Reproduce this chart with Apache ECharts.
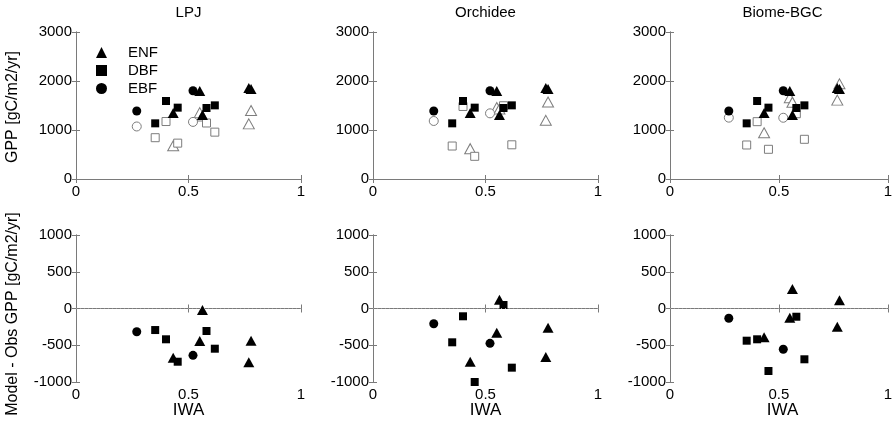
<!DOCTYPE html>
<html><head><meta charset="utf-8">
<script src="https://cdn.jsdelivr.net/npm/echarts/dist/echarts.min.js"></script>
<style>html,body{margin:0;padding:0;background:#fff}#c{width:895px;height:424px}</style>
</head><body><div id="c"></div>
<script>
// ---- data ----
const modelNames = ['LPJ', 'Orchidee', 'Biome-BGC'];
const pftNames = ['ENF', 'DBF', 'EBF'];
const xTicks = [0, 0.5, 1];
const gppTicks = [0, 1000, 2000, 3000];
const diffTicks = [-1000, -500, 0, 500, 1000];

// site IWA values
const iwaENF = [0.432, 0.55, 0.562, 0.768, 0.778];
const iwaDBF = [0.352, 0.40, 0.452, 0.58, 0.617];
const iwaEBF = [0.27, 0.52];

// observed GPP (filled markers)
const obsENF = [1347, 1796, 1306, 1857, 1837];
const obsDBF = [1136, 1592, 1456, 1449, 1503];
const obsEBF = [1388, 1802];

// modelled GPP (open markers)
const lpjENF = [678, 1354, 1286, 1125, 1399];
const lpjDBF = [843, 1173, 732, 1143, 956];
const lpjEBF = [1072, 1165];
const orcENF = [619, 1460, 1430, 1197, 1570];
const orcDBF = [673, 1480, 463, 1495, 698];
const orcEBF = [1184, 1340];
const bgcENF = [945, 1660, 1568, 1610, 1942];
const bgcDBF = [694, 1170, 606, 1332, 810];
const bgcEBF = [1252, 1250];

// model - obs GPP
const lpjDiffENF = [-669, -442, -20, -732, -438];
const lpjDiffDBF = [-293, -419, -724, -306, -547];
const lpjDiffEBF = [-316, -637];
const orcDiffENF = [-724, -329, 120, -660, -261];
const orcDiffDBF = [-460, -106, -1000, 48, -805];
const orcDiffEBF = [-207, -474];
const bgcDiffENF = [-392, -125, 265, -248, 112];
const bgcDiffDBF = [-438, -419, -850, -112, -691];
const bgcDiffEBF = [-133, -555];

// ---- build ----
const FONT = '"Liberation Sans", Arial, Helvetica, sans-serif';
const iwa = [iwaENF, iwaDBF, iwaEBF];
const obs = [obsENF, obsDBF, obsEBF];
const mods = [[lpjENF, lpjDBF, lpjEBF], [orcENF, orcDBF, orcEBF], [bgcENF, bgcDBF, bgcEBF]];
const diffs = [[lpjDiffENF, lpjDiffDBF, lpjDiffEBF], [orcDiffENF, orcDiffDBF, orcDiffEBF], [bgcDiffENF, bgcDiffDBF, bgcDiffEBF]];
const symbols = ['triangle', 'rect', 'circle'];
const fillSize = [[11, 10], 8, 9];
const openSize = [[11, 10], 8, 9];

const lefts = [76, 373, 670];
const widths = [225, 225, 228];
const tops = [32, 235];
const H = 147;
const axisColor = '#7a7a7a';

const grid = [], xAxis = [], yAxis = [], series = [];
function pts(xs, ys) { return xs.map((x, i) => [x, ys[i]]); }
const plain = v => String(v);

for (let r = 0; r < 2; r++) {
  for (let c = 0; c < 3; c++) {
    const g = r * 3 + c;
    grid.push({ left: lefts[c], top: tops[r], width: widths[c], height: H });
    const yt = r === 0 ? gppTicks : diffTicks;
    const base = {
      gridIndex: g, type: 'value', splitLine: { show: false },
      axisLine: { show: true, lineStyle: { color: axisColor, width: 1 } },
      axisTick: { show: true, inside: true, length: 4, lineStyle: { color: axisColor } }
    };
    xAxis.push(Object.assign({}, base, { position: 'bottom', min: xTicks[0], max: xTicks[xTicks.length - 1], interval: xTicks[1] - xTicks[0],
      axisLabel: { color: '#000', fontSize: 15, fontFamily: FONT, margin: 5, formatter: plain } }));
    xAxis.push(Object.assign({}, base, { position: 'top', min: xTicks[0], max: xTicks[xTicks.length - 1], interval: xTicks[1] - xTicks[0],
      axisLabel: { show: false } }));
    yAxis.push(Object.assign({}, base, { position: 'left', min: yt[0], max: yt[yt.length - 1], interval: yt[1] - yt[0],
      axisLabel: { color: '#000', fontSize: 15, fontFamily: FONT, margin: 4, formatter: plain } }));
    yAxis.push(Object.assign({}, base, { position: 'right', min: yt[0], max: yt[yt.length - 1], interval: yt[1] - yt[0],
      axisLabel: { show: false } }));

    const xi = 2 * g, yi = 2 * g;
    if (r === 0) {
      for (let p = 0; p < 3; p++) {
        series.push({ type: 'scatter', name: modelNames[c] + ' ' + pftNames[p] + ' model', xAxisIndex: xi, yAxisIndex: yi,
          symbol: symbols[p], symbolSize: openSize[p], data: pts(iwa[p], mods[c][p]),
          itemStyle: { color: '#fff', borderColor: '#7d7d7d', borderWidth: 1, opacity: 1 }, silent: true, z: 2 });
      }
      for (let p = 0; p < 3; p++) {
        series.push({ type: 'scatter', name: pftNames[p], xAxisIndex: xi, yAxisIndex: yi,
          symbol: symbols[p], symbolSize: fillSize[p], data: pts(iwa[p], obs[p]),
          itemStyle: { color: '#000', opacity: 1 }, silent: true, z: 3 });
      }
    } else {
      for (let p = 0; p < 3; p++) {
        const s = { type: 'scatter', name: modelNames[c] + ' ' + pftNames[p] + ' diff', xAxisIndex: xi, yAxisIndex: yi,
          symbol: symbols[p], symbolSize: fillSize[p], data: pts(iwa[p], diffs[c][p]),
          itemStyle: { color: '#000', opacity: 1 }, silent: true, z: 3 };
        if (p === 0) {
          s.markLine = { silent: true, symbol: 'none', label: { show: false }, animation: false,
            lineStyle: { type: [1, 3], color: '#999', width: 1 }, data: [{ yAxis: 0 }] };
        }
        series.push(s);
      }
    }
  }
}

const graphic = [];
function txt(x, y, s, size, rot) {
  graphic.push({ type: 'text', x: x, y: y, rotation: rot || 0, silent: true,
    style: { text: s, fill: '#000', font: size + 'px ' + FONT, textAlign: 'center', textVerticalAlign: 'middle', align: 'center', verticalAlign: 'middle' } });
}
for (let c = 0; c < 3; c++) {
  txt(lefts[c] + 112.5, 13, modelNames[c], 15);
  txt(lefts[c] + 112.5, 410, 'IWA', 17);
}
txt(13, 107, 'GPP [gC/m2/yr]', 16, Math.PI / 2);
txt(13, 314, 'Model - Obs GPP [gC/m2/yr]', 16, Math.PI / 2);

const option = {
  animation: false,
  backgroundColor: '#fff',
  grid, xAxis, yAxis, series, graphic,
  legend: {
    data: pftNames, orient: 'vertical', left: 91, top: 40, itemWidth: 11, itemHeight: 11, itemGap: 3,
    selectedMode: false,
    textStyle: { color: '#000', fontSize: 15, fontFamily: FONT, padding: [0, 0, 0, 16] }
  }
};
const chart = echarts.init(document.getElementById('c'), null, { renderer: 'canvas' });
chart.setOption(option);
</script></body></html>
